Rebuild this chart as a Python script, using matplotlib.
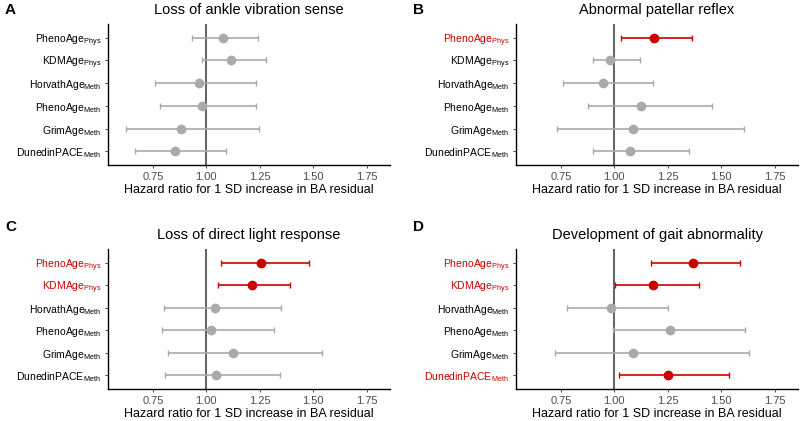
import matplotlib
matplotlib.use("Agg")
import matplotlib.pyplot as plt

plt.rcParams['font.family'] = ['Liberation Sans', 'DejaVu Sans']
plt.rcParams['mathtext.fontset'] = 'custom'
plt.rcParams['mathtext.rm'] = 'Liberation Sans'

# clock names (base, subscript), top to bottom
clocks = [("PhenoAge", "Phys"), ("KDMAge", "Phys"), ("HorvathAge", "Meth"),
          ("PhenoAge", "Meth"), ("GrimAge", "Meth"), ("DunedinPACE", "Meth")]

titles = ["Loss of ankle vibration sense", "Abnormal patellar reflex",
          "Loss of direct light response", "Development of gait abnormality"]
letters = ["A", "B", "C", "D"]

# hazard ratios and 95% CI per panel
hr_a = [1.076, 1.118, 0.965, 0.981, 0.883, 0.853]
lo_a = [0.933, 0.981, 0.759, 0.785, 0.625, 0.668]
hi_a = [1.243, 1.278, 1.231, 1.232, 1.248, 1.092]
sig_a = [0, 0, 0, 0, 0, 0]

hr_b = [1.187, 0.980, 0.948, 1.127, 1.086, 1.075]
lo_b = [1.031, 0.902, 0.761, 0.877, 0.733, 0.902]
hi_b = [1.364, 1.120, 1.180, 1.458, 1.605, 1.352]
sig_b = [1, 0, 0, 0, 0, 0]

hr_c = [1.256, 1.212, 1.041, 1.020, 1.127, 1.044]
lo_c = [1.069, 1.053, 0.802, 0.792, 0.822, 0.808]
hi_c = [1.480, 1.394, 1.350, 1.316, 1.542, 1.347]
sig_c = [1, 1, 0, 0, 0, 0]

hr_d = [1.367, 1.183, 0.984, 1.262, 1.086, 1.252]
lo_d = [1.172, 1.003, 0.778, 0.992, 0.722, 1.023]
hi_d = [1.589, 1.398, 1.250, 1.611, 1.631, 1.536]
sig_d = [1, 1, 0, 0, 0, 1]

panels = [(hr_a, lo_a, hi_a, sig_a), (hr_b, lo_b, hi_b, sig_b),
          (hr_c, lo_c, hi_c, sig_c), (hr_d, lo_d, hi_d, sig_d)]

xticks = [0.75, 1.00, 1.25, 1.50, 1.75]
red = "#CC0000"
grey = "#AAAAAA"

W, H = 800, 421
fig = plt.figure(figsize=(8, 4.21), dpi=100)

# axes boxes in pixels: left, right, top, bottom
boxes = [(108, 390, 24, 165), (516, 798, 24, 165),
         (108, 390, 249, 389), (516, 798, 249, 389)]

for i, (box, (hr, lo, hi, sig)) in enumerate(zip(boxes, panels)):
    l, r, t, b = box
    ax = fig.add_axes([l / W, 1 - b / H, (r - l) / W, (b - t) / H])
    ax.axvline(1.0, color="#555555", lw=1.3, zorder=1)
    for j in range(len(hr)):
        y = j + 1
        c = red if sig[j] else grey
        ax.errorbar(hr[j], y, xerr=[[hr[j] - lo[j]], [hi[j] - hr[j]]], fmt='o',
                    color=c, ecolor=c, ms=6, elinewidth=1.2, capsize=2.2,
                    capthick=1.0, zorder=3)
    ax.set_ylim(6.6, 0.4)
    ax.set_xlim(0.54, 1.86)
    ax.set_yticks(range(1, 7))
    ax.set_yticklabels([n + r"$_{\mathrm{" + s + "}}$" for n, s in clocks], fontsize=7.5)
    for lab, s in zip(ax.get_yticklabels(), sig):
        lab.set_color(red if s else "black")
    ax.set_xticks(xticks)
    ax.set_xticklabels(["%.2f" % v for v in xticks], fontsize=8, color="#4D4D4D")
    ax.tick_params(axis='both', length=2.5, width=0.6, color="#333333", pad=2.5)
    for side in ["top", "right"]:
        ax.spines[side].set_visible(False)
    for side in ["left", "bottom"]:
        ax.spines[side].set_linewidth(1.0)
    ax.set_xlabel("Hazard ratio for 1 SD increase in BA residual", fontsize=9, labelpad=1.5)
    ax.set_title(titles[i], fontsize=10.5, pad=7)
    lx = 5 if i % 2 == 0 else 413
    ly = 3 if i < 2 else 220
    fig.text(lx / W, 1 - ly / H, letters[i], fontsize=11, fontweight="bold", va="top")

fig.savefig("out.png", dpi=100)
